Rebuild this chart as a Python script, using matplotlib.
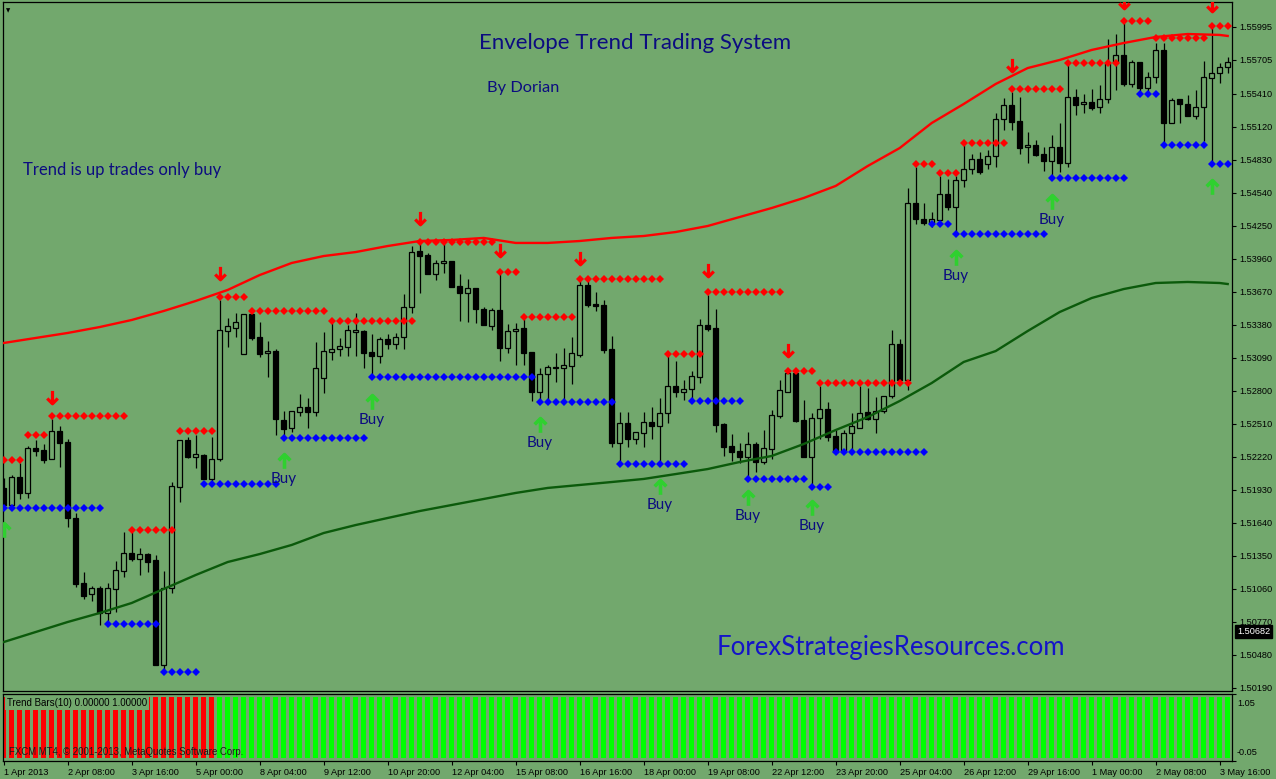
import matplotlib
matplotlib.use("Agg")
import matplotlib.pyplot as plt
from matplotlib.path import Path
from matplotlib.transforms import blended_transform_factory

W, H = 1276, 779
BG = "#72a86d"

# ---------------- data (H4 bars, index 0 = 1 Apr 2013 00:00) ----------------
opens = [1.51944, 1.51794, 1.52040, 1.51900, 1.52295, 1.52277, 1.52198, 1.52444, 1.52348, 1.51680,
         1.51109, 1.51012, 1.51065, 1.50845, 1.51056, 1.51214, 1.51372, 1.51320, 1.51363, 1.51311,
         1.50388, 1.51065, 1.51952, 1.52365, 1.52216, 1.52234, 1.52023, 1.52198, 1.53323, 1.53350,
         1.53121, 1.53473, 1.53271, 1.53130, 1.53147, 1.52541, 1.52471, 1.52611, 1.52655, 1.52611,
         1.52910, 1.53139, 1.53165, 1.53183, 1.53314, 1.53323, 1.53139, 1.53104, 1.53253, 1.53209,
         1.53271, 1.53534, 1.54026, 1.53991, 1.53824, 1.53921, 1.53938, 1.53719, 1.53657, 1.53701,
         1.53517, 1.53367, 1.53508, 1.53174, 1.53323, 1.53350, 1.53139, 1.52787, 1.52945, 1.53007,
         1.52998, 1.53016, 1.53112, 1.53727, 1.53560, 1.53552, 1.53165, 1.52339, 1.52515, 1.52374,
         1.52427, 1.52523, 1.52488, 1.52603, 1.52840, 1.52787, 1.52813, 1.52919, 1.53376, 1.53350,
         1.52506, 1.52313, 1.52269, 1.52216, 1.52330, 1.52172, 1.52286, 1.52576, 1.52787, 1.52954,
         1.52541, 1.52216, 1.52559, 1.52638, 1.52401, 1.52260, 1.52427, 1.52471, 1.52611, 1.52550,
         1.52620, 1.52752, 1.53209, 1.52893, 1.54448, 1.54307, 1.54272, 1.54299, 1.54527, 1.54413,
         1.54650, 1.54747, 1.54835, 1.54791, 1.54861, 1.55186, 1.55309, 1.55169, 1.54940, 1.54958,
         1.54879, 1.54817, 1.54940, 1.54800, 1.55380, 1.55318, 1.55336, 1.55292, 1.55362, 1.55678,
         1.55749, 1.55494, 1.55687, 1.55459, 1.55555, 1.55793, 1.55151, 1.55362, 1.55318, 1.55213,
         1.55292, 1.55547, 1.55590, 1.55643]
highs = [1.52031, 1.52058, 1.52163, 1.52313, 1.52365, 1.52330, 1.52550, 1.52488, 1.52374, 1.51724,
         1.51205, 1.51082, 1.51082, 1.51109, 1.51302, 1.51557, 1.51557, 1.51416, 1.51372, 1.51355,
         1.51214, 1.51996, 1.52365, 1.52392, 1.52409, 1.52242, 1.52392, 1.53596, 1.53437, 1.53481,
         1.53473, 1.53508, 1.53402, 1.53235, 1.53165, 1.52620, 1.52620, 1.52770, 1.52734, 1.53227,
         1.53314, 1.53393, 1.53262, 1.53376, 1.53481, 1.53332, 1.53297, 1.53271, 1.53297, 1.53306,
         1.53648, 1.54070, 1.54096, 1.54009, 1.53947, 1.54096, 1.53938, 1.53824, 1.53780, 1.53701,
         1.53534, 1.53525, 1.53833, 1.53385, 1.53393, 1.53429, 1.53139, 1.52998, 1.53024, 1.53130,
         1.53174, 1.53271, 1.53771, 1.53771, 1.53666, 1.53596, 1.53279, 1.52611, 1.52611, 1.52436,
         1.52611, 1.52655, 1.52734, 1.53121, 1.53060, 1.52893, 1.52972, 1.53429, 1.53640, 1.53517,
         1.52515, 1.52418, 1.52339, 1.52436, 1.52348, 1.52453, 1.52629, 1.52893, 1.52963, 1.52963,
         1.52717, 1.52603, 1.52840, 1.52699, 1.52453, 1.52453, 1.52603, 1.52840, 1.52822, 1.52743,
         1.52752, 1.53332, 1.53253, 1.54580, 1.54764, 1.54448, 1.54369, 1.54685, 1.54659, 1.54685,
         1.54958, 1.54879, 1.54896, 1.54914, 1.55239, 1.55371, 1.55424, 1.55380, 1.55072, 1.55002,
         1.54940, 1.55046, 1.55151, 1.55678, 1.55450, 1.55406, 1.55450, 1.55485, 1.55889, 1.55933,
         1.56030, 1.55705, 1.55687, 1.55599, 1.55854, 1.55854, 1.55371, 1.55362, 1.55397, 1.55441,
         1.55696, 1.56003, 1.55678, 1.55731]
lows = [1.51768, 1.51768, 1.51847, 1.51856, 1.52225, 1.52163, 1.52198, 1.52128, 1.51601, 1.51074,
        1.50968, 1.50950, 1.50740, 1.50775, 1.50854, 1.51161, 1.51302, 1.51179, 1.51205, 1.50388,
        1.50344, 1.51021, 1.51820, 1.52207, 1.52119, 1.52023, 1.52005, 1.52181, 1.53183, 1.53271,
        1.53121, 1.53244, 1.53095, 1.52919, 1.52409, 1.52401, 1.52436, 1.52576, 1.52471, 1.52576,
        1.52778, 1.53068, 1.53104, 1.53104, 1.53104, 1.52998, 1.52910, 1.53042, 1.53165, 1.53165,
        1.53165, 1.53481, 1.53657, 1.53824, 1.53771, 1.53833, 1.53710, 1.53411, 1.53402, 1.53393,
        1.53376, 1.53332, 1.53060, 1.53130, 1.53024, 1.53024, 1.52708, 1.52708, 1.52717, 1.52875,
        1.52717, 1.52857, 1.53095, 1.53534, 1.53499, 1.53130, 1.52304, 1.52163, 1.52304, 1.52330,
        1.52304, 1.52374, 1.52163, 1.52515, 1.52743, 1.52717, 1.52717, 1.52866, 1.53323, 1.52436,
        1.52225, 1.52181, 1.52163, 1.52040, 1.52084, 1.52154, 1.52198, 1.52559, 1.52787, 1.52523,
        1.52216, 1.51952, 1.52374, 1.52357, 1.52260, 1.52260, 1.52286, 1.52471, 1.52541, 1.52427,
        1.52603, 1.52734, 1.52866, 1.52805, 1.54263, 1.54255, 1.54237, 1.54272, 1.54387, 1.54184,
        1.54589, 1.54703, 1.54703, 1.54747, 1.54764, 1.55090, 1.55090, 1.54879, 1.54800, 1.54861,
        1.54729, 1.54668, 1.54720, 1.54764, 1.55221, 1.55239, 1.55265, 1.55239, 1.55327, 1.55441,
        1.55476, 1.55467, 1.55424, 1.55424, 1.55503, 1.54966, 1.55151, 1.55151, 1.55213, 1.55186,
        1.54993, 1.54800, 1.55503, 1.55590]
closes = [1.51794, 1.52040, 1.51900, 1.52295, 1.52269, 1.52190, 1.52444, 1.52339, 1.51680, 1.51100,
          1.50994, 1.51065, 1.50845, 1.51065, 1.51223, 1.51372, 1.51320, 1.51363, 1.51293, 1.50388,
          1.51065, 1.51961, 1.52365, 1.52216, 1.52242, 1.52023, 1.52198, 1.53332, 1.53367, 1.53402,
          1.53473, 1.53262, 1.53121, 1.53147, 1.52550, 1.52462, 1.52620, 1.52655, 1.52611, 1.52998,
          1.53147, 1.53165, 1.53191, 1.53332, 1.53332, 1.53130, 1.53104, 1.53253, 1.53209, 1.53271,
          1.53534, 1.54017, 1.53982, 1.53824, 1.53921, 1.53938, 1.53710, 1.53657, 1.53701, 1.53517,
          1.53376, 1.53508, 1.53174, 1.53323, 1.53341, 1.53130, 1.52787, 1.52945, 1.53007, 1.52998,
          1.53024, 1.53130, 1.53727, 1.53552, 1.53543, 1.53156, 1.52339, 1.52515, 1.52374, 1.52436,
          1.52523, 1.52488, 1.52603, 1.52840, 1.52787, 1.52813, 1.52928, 1.53376, 1.53341, 1.52497,
          1.52304, 1.52260, 1.52216, 1.52330, 1.52172, 1.52295, 1.52585, 1.52805, 1.52954, 1.52532,
          1.52216, 1.52559, 1.52638, 1.52392, 1.52260, 1.52427, 1.52488, 1.52603, 1.52550, 1.52620,
          1.52752, 1.53209, 1.52893, 1.54448, 1.54307, 1.54272, 1.54307, 1.54527, 1.54413, 1.54650,
          1.54747, 1.54835, 1.54720, 1.54861, 1.55186, 1.55309, 1.55160, 1.54931, 1.54958, 1.54870,
          1.54817, 1.54940, 1.54800, 1.55380, 1.55309, 1.55336, 1.55283, 1.55362, 1.55678, 1.55749,
          1.55494, 1.55687, 1.55459, 1.55555, 1.55793, 1.55151, 1.55353, 1.55318, 1.55213, 1.55292,
          1.55555, 1.55590, 1.55643, 1.55687]

# envelope lines, sampled at these bars
env_bars = [0, 4, 8, 12, 16, 20, 24, 28, 32, 36, 40, 44, 48, 52, 56, 60, 64, 68, 72, 76,
            80, 84, 88, 92, 96, 100, 104, 108, 112, 116, 120, 124, 128, 132, 136, 140, 144, 148, 152, 153]
env_upper = [1.53218, 1.53262, 1.53306, 1.53358, 1.53420, 1.53499, 1.53587, 1.53684, 1.53815, 1.53921,
             1.53982, 1.54017, 1.54070, 1.54114, 1.54123, 1.54141, 1.54097, 1.54097, 1.54114, 1.54141,
             1.54158, 1.54193, 1.54246, 1.54325, 1.54404, 1.54492, 1.54598, 1.54773, 1.54931, 1.55151,
             1.55318, 1.55494, 1.55634, 1.55705, 1.55793, 1.55854, 1.55907, 1.55933, 1.55925, 1.55916]
env_lower = [1.50590, 1.50678, 1.50766, 1.50845, 1.50933, 1.51056, 1.51179, 1.51293, 1.51363, 1.51443,
             1.51548, 1.51618, 1.51680, 1.51741, 1.51794, 1.51847, 1.51900, 1.51944, 1.51970, 1.51996,
             1.52023, 1.52066, 1.52110, 1.52172, 1.52225, 1.52330, 1.52453, 1.52567, 1.52708, 1.52866,
             1.53051, 1.53147, 1.53323, 1.53490, 1.53613, 1.53692, 1.53745, 1.53754, 1.53745, 1.53736]

# dotted resistance (red) and support (blue) levels: first bar, last bar, price
res_start = [0, 3, 6, 16, 22, 27, 31, 41, 52, 62, 65, 72, 83, 88, 98, 102, 114, 117, 120, 126, 133, 140, 144, 151]
res_end = [2, 5, 15, 21, 26, 30, 40, 51, 61, 64, 71, 82, 87, 97, 101, 113, 116, 119, 125, 132, 139, 143, 150, 153]
res_price = [1.52190, 1.52409, 1.52576, 1.51574, 1.52444, 1.53622, 1.53499, 1.53411, 1.54105, 1.53842,
             1.53446, 1.53780, 1.53121, 1.53666, 1.52972, 1.52866, 1.54791, 1.54712, 1.54975, 1.55450,
             1.55678, 1.56047, 1.55898, 1.56003]
sup_start = [0, 13, 20, 25, 35, 46, 67, 77, 86, 93, 101, 104, 116, 119, 131, 142, 145, 151]
sup_end = [12, 19, 24, 34, 45, 66, 76, 85, 92, 100, 103, 115, 118, 130, 140, 144, 150, 153]
sup_price = [1.51768, 1.50748, 1.50326, 1.51979, 1.52383, 1.52919, 1.52699, 1.52154, 1.52708, 1.52023,
             1.51952, 1.52260, 1.54263, 1.54176, 1.54668, 1.55406, 1.54958, 1.54791]

sell_bars = [6, 27, 52, 62, 72, 88, 98, 126, 140, 151]
sell_price = [1.52743, 1.53833, 1.54316, 1.54035, 1.53965, 1.53859, 1.53156, 1.55661, 1.56214, 1.56188]
buy_bars = [0, 35, 46, 67, 82, 93, 101, 119, 131, 151]
buy_price = [1.51574, 1.52181, 1.52699, 1.52497, 1.51952, 1.51856, 1.51768, 1.53965, 1.54457, 1.54589]
buy_text_bars = [35, 46, 67, 82, 93, 101, 119, 131]

price_ticks = [1.55995, 1.55705, 1.55410, 1.55120, 1.54830, 1.54540, 1.54250, 1.53960, 1.53670, 1.53380,
               1.53090, 1.52800, 1.52510, 1.52220, 1.51930, 1.51640, 1.51350, 1.51060, 1.50770, 1.50480,
               1.50190]
time_tick_bars = [0, 8, 16, 24, 32, 40, 48, 56, 64, 72, 80, 88, 96, 104, 112, 120, 128, 136, 144, 152]
time_labels = ["1 Apr 2013", "2 Apr 08:00", "3 Apr 16:00", "5 Apr 00:00", "8 Apr 04:00", "9 Apr 12:00",
               "10 Apr 20:00", "12 Apr 04:00", "15 Apr 08:00", "16 Apr 16:00", "18 Apr 00:00",
               "19 Apr 08:00", "22 Apr 12:00", "23 Apr 20:00", "25 Apr 04:00", "26 Apr 12:00",
               "29 Apr 16:00", "1 May 00:00", "2 May 08:00", "3 May 16:00"]
trend_dir = ["down"] * 27 + ["up"] * 127
trend_value = [1.0] * 154
last_price = 1.50682

# ---------------- figure ----------------
plt.rcParams['font.family'] = ['DejaVu Sans']
fig = plt.figure(figsize=(W / 100, H / 100), dpi=100, facecolor=BG)
ax = fig.add_axes([3 / W, 1 - 691 / H, 1229 / W, 689 / H], facecolor=BG)
ax2 = fig.add_axes([3 / W, 1 - 761 / H, 1229 / W, 67 / H], facecolor=BG)

n = len(opens)
idx = list(range(n))
XMIN, XMAX = -0.09, 153.54
for a in (ax, ax2):
    a.set_xlim(XMIN, XMAX)
    for s in a.spines.values():
        s.set_color("black")
        s.set_linewidth(0.9)
ax.set_ylim(1.501595, 1.562144)
ax2.set_ylim(-0.05, 1.05)

# candles
ax.vlines(idx, lows, highs, colors="black", linewidth=0.9, zorder=2)
bull_x = [i for i in idx if closes[i] >= opens[i]]
bear_x = [i for i in idx if closes[i] < opens[i]]
ax.bar(bull_x, [closes[i] - opens[i] for i in bull_x], bottom=[opens[i] for i in bull_x],
       width=0.6, facecolor=BG, edgecolor="black", linewidth=0.9, zorder=3)
ax.bar(bear_x, [closes[i] - opens[i] for i in bear_x], bottom=[opens[i] for i in bear_x],
       width=0.6, facecolor="black", edgecolor="black", linewidth=0.9, zorder=3)

# envelope
ax.plot(env_bars, env_upper, color="#ff0000", linewidth=1.7, zorder=4)
ax.plot(env_bars, env_lower, color="#0b5a0b", linewidth=1.7, zorder=4)

# dotted levels
for s, e, p in zip(res_start, res_end, res_price):
    xs = list(range(s, e + 1))
    ax.plot(xs, [p] * len(xs), linestyle="none", marker="D", markersize=3.7,
            color="#ff0000", markeredgewidth=0, zorder=5)
for s, e, p in zip(sup_start, sup_end, sup_price):
    xs = list(range(s, e + 1))
    ax.plot(xs, [p] * len(xs), linestyle="none", marker="D", markersize=3.7,
            color="#0000ff", markeredgewidth=0, zorder=5)

# arrows
codes = [Path.MOVETO, Path.LINETO, Path.MOVETO, Path.LINETO, Path.LINETO]
down_arrow = Path([(0, 1), (0, -0.9), (-0.8, -0.15), (0, -0.95), (0.8, -0.15)], codes)
up_arrow = Path([(0, -1), (0, 0.9), (-0.8, 0.15), (0, 0.95), (0.8, 0.15)], codes)
ax.plot(sell_bars, sell_price, linestyle="none", marker=down_arrow, markersize=9.5,
        markerfacecolor="none", markeredgecolor="#ff0000", markeredgewidth=2.3, zorder=6)
ax.plot(buy_bars, buy_price, linestyle="none", marker=up_arrow, markersize=10.5,
        markerfacecolor="none", markeredgecolor="#2fd02f", markeredgewidth=2.6, zorder=6)
for b in buy_text_bars:
    p = buy_price[buy_bars.index(b)]
    ax.annotate("Buy", (b, p), xytext=(0, -18), textcoords="offset pixels", ha="center", va="center",
                fontsize=11, color="#0c0c80", family="Lato", zorder=7)

# price axis
ax.yaxis.tick_right()
ax.set_yticks(price_ticks)
ax.set_yticklabels([f"{t:.5f}" for t in price_ticks])
ax.tick_params(axis="y", direction="out", length=3, width=0.8, pad=2, labelsize=6.6, colors="black")
ax.set_xticks([])
for lab in ax.get_yticklabels():
    lab.set_family("Liberation Sans")
trans = blended_transform_factory(ax.transAxes, ax.transData)
ax.text(1.0 + 5 / 1229, last_price, f"{last_price:.5f}", transform=trans, ha="left", va="center",
        fontsize=6.6, color="white", family="Liberation Sans",
        bbox=dict(boxstyle="square,pad=0.25", facecolor="black", edgecolor="black"), clip_on=False)

# trend bars panel
colors = ["#ff0000" if d == "down" else "#00ff00" for d in trend_dir]
ax2.bar(idx, trend_value, width=0.62, color=colors, zorder=2)
ax2.set_yticks([-0.05, 1.05])
ax2.set_yticklabels([])
ax2.yaxis.tick_right()
ax2.tick_params(axis="y", direction="out", length=3, width=0.8)
ax2.text(1.0 + 5 / 1229, 0.86, "1.05", transform=ax2.transAxes, fontsize=6.6,
         family="Liberation Sans", va="center", ha="left")
ax2.text(1.0 + 5 / 1229, 0.13, "-0.05", transform=ax2.transAxes, fontsize=6.6,
         family="Liberation Sans", va="center", ha="left")
ax2.set_xticks(time_tick_bars)
ax2.set_xticklabels(time_labels, ha="left", family="Liberation Sans")
ax2.tick_params(axis="x", direction="out", length=3, width=0.8, pad=2, labelsize=6.6)
ax2.text(4 / 1229, 0.86, "Trend Bars(10) 0.00000 1.00000", transform=ax2.transAxes, fontsize=7,
         family="Liberation Sans", va="center", ha="left", zorder=5,
         bbox=dict(boxstyle="square,pad=0.2", facecolor=BG, edgecolor="none"))
ax2.text(6 / 1229, 0.13, "FXCM MT4, \u00a9 2001-2013, MetaQuotes Software Corp.", transform=ax2.transAxes,
         fontsize=6.9, family="Liberation Sans", va="center", ha="left", zorder=5, color="#1a1a1a")

# annotations
navy = "#0c0c80"
fig.text(635 / W, 1 - 43 / H, "Envelope Trend Trading System", ha="center", va="center",
         fontsize=16, color=navy, family="Lato")
fig.text(523 / W, 1 - 88 / H, "By Dorian", ha="center", va="center", fontsize=11.8, color=navy, family="Lato")
fig.text(23 / W, 1 - 170 / H, "Trend is up trades only buy", ha="left", va="center", fontsize=12,
         color=navy, family="Lato")
fig.text(891 / W, 1 - 648 / H, "ForexStrategiesResources.com", ha="center", va="center", fontsize=18.5,
         color="#1414c8", family="Lato")
fig.text(8 / W, 1 - 11 / H, "\u25bc", ha="center", va="center", fontsize=4, color="black")

fig.savefig("out.png", dpi=100, facecolor=BG)
